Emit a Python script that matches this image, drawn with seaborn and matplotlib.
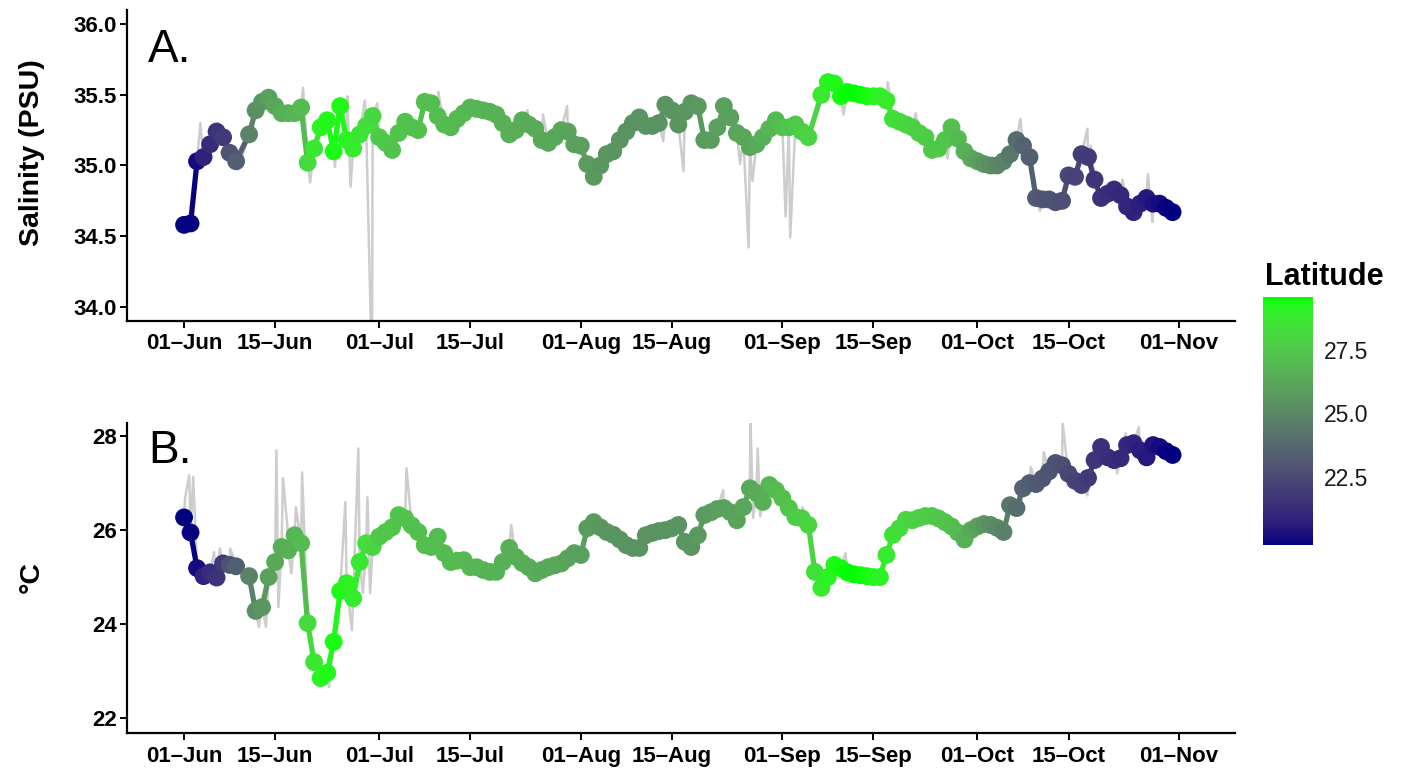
import numpy as np
import pandas as pd
import matplotlib
matplotlib.use("Agg")
import matplotlib.pyplot as plt
import matplotlib.dates as mdates
from matplotlib.collections import LineCollection
from matplotlib.colors import ListedColormap, Normalize
import matplotlib.cm as cm
import seaborn as sns

# ---------------- data (daily values, day 0 = 01-Jun) ----------------
start_date = "2019-06-01"

salinity = [
    34.58, 34.59, 35.03, 35.06, 35.15, 35.24, 35.20, 35.09, 35.03, None,
    35.22, 35.39, 35.45, 35.48, 35.42, 35.37, 35.37, 35.37, 35.41, 35.02,
    35.12, 35.27, 35.32, 35.10, 35.42, 35.18, 35.12, 35.22, 35.28, 35.35,
    35.20, 35.16, 35.11, 35.23, 35.31, 35.27, 35.25, 35.45, 35.44, 35.35,
    35.29, 35.27, 35.33, 35.37, 35.41, 35.40, 35.39, 35.38, 35.36, 35.30,
    35.22, 35.25, 35.32, 35.29, 35.26, 35.18, 35.16, 35.20, 35.25, 35.24,
    35.15, 35.14, 35.01, 34.92, 35.00, 35.08, 35.10, 35.18, 35.24, 35.30,
    35.34, 35.28, 35.28, 35.30, 35.43, 35.39, 35.29, 35.38, 35.44, 35.42,
    35.18, 35.18, 35.27, 35.42, 35.34, 35.23, 35.20, 35.13, 35.15, 35.20,
    35.26, 35.32, 35.27, 35.27, 35.29, 35.24, 35.20, None, 35.50, 35.59,
    35.58, 35.49, 35.52, 35.51, 35.50, 35.49, 35.49, 35.49, 35.46, 35.33,
    35.31, 35.29, 35.27, 35.23, 35.20, 35.11, 35.12, 35.18, 35.27, 35.19,
    35.10, 35.05, 35.03, 35.01, 35.00, 35.00, 35.03, 35.08, 35.18, 35.14,
    35.06, 34.77, 34.76, 34.76, 34.74, 34.75, 34.93, 34.92, 35.08, 35.06,
    34.90, 34.77, 34.80, 34.83, 34.79, 34.71, 34.67, 34.73, 34.77, 34.73,
    34.73, 34.70, 34.67,
]

temperature = [
    26.27, 25.95, 25.19, 25.02, 25.10, 24.99, 25.29, 25.26, 25.23, None,
    25.02, 24.28, 24.36, 25.00, 25.32, 25.64, 25.57, 25.89, 25.72, 24.02,
    23.19, 22.85, 22.96, 23.62, 24.70, 24.87, 24.55, 25.32, 25.72, 25.64,
    25.86, 25.96, 26.06, 26.32, 26.25, 26.10, 25.96, 25.68, 25.64, 25.86,
    25.51, 25.32, 25.35, 25.36, 25.21, 25.21, 25.15, 25.11, 25.11, 25.32,
    25.62, 25.43, 25.30, 25.21, 25.08, 25.15, 25.21, 25.25, 25.29, 25.40,
    25.51, 25.47, 26.04, 26.17, 26.06, 25.96, 25.90, 25.80, 25.68, 25.62,
    25.62, 25.89, 25.94, 25.98, 26.00, 26.04, 26.11, 25.75, 25.64, 25.89,
    26.32, 26.38, 26.45, 26.47, 26.38, 26.21, 26.49, 26.89, 26.79, 26.60,
    26.96, 26.85, 26.68, 26.47, 26.28, 26.25, 26.11, 25.11, 24.77, 25.00,
    25.26, 25.19, 25.10, 25.06, 25.04, 25.02, 25.00, 25.00, 25.47, 25.90,
    26.04, 26.22, 26.21, 26.26, 26.30, 26.30, 26.25, 26.17, 26.08, 25.95,
    25.80, 26.00, 26.08, 26.13, 26.11, 26.05, 25.96, 26.53, 26.47, 26.89,
    27.00, 26.98, 27.10, 27.25, 27.43, 27.38, 27.20, 27.05, 26.96, 27.11,
    27.49, 27.77, 27.55, 27.49, 27.53, 27.81, 27.85, 27.70, 27.55, 27.81,
    27.77, 27.68, 27.60,
]

latitude = [
    19.8, 19.9, 20.1, 20.8, 21.2, 21.5, 21.8, 22.8, 23.3, None,
    24.8, 25.3, 25.6, 26.0, 26.3, 26.5, 26.6, 26.8, 27.0, 28.2,
    28.7, 29.1, 29.3, 29.4, 29.3, 29.1, 28.9, 28.7, 28.4, 28.1,
    27.6, 27.5, 27.4, 27.4, 27.3, 27.3, 27.2, 27.2, 27.1, 27.1,
    27.0, 27.0, 27.0, 26.9, 26.9, 26.8, 26.8, 26.7, 26.7, 26.6,
    26.6, 26.5, 26.5, 26.4, 26.4, 26.3, 26.3, 26.2, 26.2, 26.1,
    26.0, 25.9, 25.8, 25.7, 25.6, 25.6, 25.5, 25.5, 25.5, 25.4,
    25.4, 25.4, 25.4, 25.4, 25.5, 25.5, 25.5, 25.6, 25.6, 25.7,
    25.7, 25.8, 25.9, 26.0, 26.0, 26.1, 26.2, 26.3, 26.4, 26.6,
    26.8, 27.0, 27.2, 27.4, 27.6, 27.8, 28.0, 28.4, 28.8, 29.1,
    29.3, 29.45, 29.55, 29.6, 29.55, 29.45, 29.3, 29.1, 28.8, 28.5,
    28.3, 28.1, 27.9, 27.8, 27.7, 27.6, 27.5, 27.4, 27.2, 27.0,
    26.7, 26.3, 25.9, 25.6, 25.3, 25.0, 24.7, 24.3, 23.9, 23.5,
    23.3, 23.1, 23.0, 22.9, 22.8, 22.6, 22.4, 22.2, 22.0, 21.8,
    21.6, 21.4, 21.3, 21.2, 21.1, 21.0, 20.9, 20.7, 20.5, 20.3,
    20.1, 19.9, 19.8,
]

# raw (high-frequency) excursions shown as the grey trace
sal_spike_day = [2.5, 5.2, 8.3, 18.3, 19.4, 23.2, 25.1, 25.6, 27.8, 28.9,
                 29.7, 39.1, 43.5, 52.8, 55.2, 58.9, 73.7, 76.8, 84.8, 85.5,
                 86.8, 87.4, 92.5, 93.2, 101.4, 108.2, 112.5, 117.4, 128.6,
                 131.6, 138.9, 139.4, 144.3, 148.2, 148.9]
sal_spike_val = [35.30, 35.30, 34.97, 35.55, 34.88, 34.99, 35.49, 34.85, 35.46, 33.50,
                 35.44, 35.52, 35.46, 35.39, 35.36, 35.42, 35.17, 34.96, 35.39, 35.01,
                 34.42, 34.89, 34.64, 34.49, 35.36, 35.59, 35.37, 35.05, 35.33,
                 34.68, 35.26, 35.14, 34.90, 34.94, 34.60]

temp_spike_day = [0.15, 0.8, 1.4, 4.6, 5.5, 7.1, 11.5, 12.6, 14.2, 14.5,
                  15.2, 15.9, 16.5, 17.2, 18.15, 22.3, 24.8, 25.8, 26.8, 27.5,
                  28.2, 28.6, 34.2, 50.3, 82.9, 87.1, 87.5, 88.2, 88.6, 95.1,
                  101.7, 128.6, 130.2, 132.2, 135.1, 135.6, 138.9, 143.5, 144.8,
                  146.8, 147.8]
temp_spike_val = [26.68, 27.17, 27.13, 25.53, 25.61, 25.61, 23.94, 23.94, 27.70, 24.36,
                  27.11, 26.06, 25.08, 26.49, 27.23, 22.66, 26.60, 23.87, 27.74, 24.66,
                  26.70, 24.66, 27.32, 26.11, 26.85, 28.30, 26.26, 27.74, 26.30, 26.49,
                  25.51, 26.36, 27.34, 27.66, 28.30, 27.64, 26.74, 27.21, 28.06,
                  28.19, 27.43]

tick_dates = ["2019-06-01", "2019-06-15", "2019-07-01", "2019-07-15", "2019-08-01",
              "2019-08-15", "2019-09-01", "2019-09-15", "2019-10-01", "2019-10-15",
              "2019-11-01"]

# ---------------- colour scale: navy -> green interpolated in CIELAB ----------------
_M = np.array([[0.4124564, 0.3575761, 0.1804375],
               [0.2126729, 0.7151522, 0.0721750],
               [0.0193339, 0.1191920, 0.9503041]])
_WP = np.array([0.95047, 1.0, 1.08883])


def srgb_to_lab(c):
    c = np.asarray(c, float)
    lin = np.where(c <= 0.04045, c / 12.92, ((c + 0.055) / 1.055) ** 2.4)
    t = (_M @ lin) / _WP
    d = 6 / 29
    f = np.where(t > d ** 3, np.cbrt(t), t / (3 * d * d) + 4 / 29)
    return np.array([116 * f[1] - 16, 500 * (f[0] - f[1]), 200 * (f[1] - f[2])])


def lab_to_srgb(lab):
    L, a, b = lab
    fy = (L + 16) / 116
    f = np.array([fy + a / 500, fy, fy - b / 200])
    d = 6 / 29
    t = np.where(f > d, f ** 3, 3 * d * d * (f - 4 / 29))
    lin = np.clip(np.linalg.inv(_M) @ (t * _WP), 0, 1)
    c = np.where(lin <= 0.0031308, 12.92 * lin, 1.055 * lin ** (1 / 2.4) - 0.055)
    return np.clip(c, 0, 1)


lab_lo = srgb_to_lab([0, 0, 128 / 255])
lab_hi = srgb_to_lab([0, 1, 0])
cmap = ListedColormap([lab_to_srgb((1 - s) * lab_lo + s * lab_hi) for s in np.linspace(0, 1, 256)])

# ---------------- frames ----------------
base = pd.Timestamp(start_date)
days = np.arange(len(salinity))
daily = pd.DataFrame({"day": days, "sal": salinity, "temp": temperature, "lat": latitude})
daily = daily.apply(pd.to_numeric)
daily["date"] = base + pd.to_timedelta(daily["day"], unit="D")

lat_valid = daily["lat"].dropna()
norm = Normalize(vmin=lat_valid.min(), vmax=lat_valid.max())


def raw_frame(col, sp_day, sp_val):
    d = daily.dropna(subset=[col])[["day", col]].rename(columns={col: "val"})
    s = pd.DataFrame({"day": sp_day, "val": sp_val})
    r = pd.concat([d, s]).sort_values("day").reset_index(drop=True)
    r["date"] = base + pd.to_timedelta(r["day"], unit="D")
    return r


# ---------------- styling ----------------
sns.set_style("ticks")
plt.rcParams["font.family"] = ["Liberation Sans", "DejaVu Sans"]
plt.rcParams["axes.linewidth"] = 1.6
plt.rcParams["text.color"] = "black"
plt.rcParams["axes.labelcolor"] = "black"
plt.rcParams["axes.edgecolor"] = "black"

fig = plt.figure(figsize=(14.02, 7.69), dpi=100)
axA = fig.add_axes([0.0906, 0.5826, 0.7903, 0.4044])
axB = fig.add_axes([0.0906, 0.0468, 0.7903, 0.4031])

xlo = mdates.date2num(base - pd.Timedelta(days=8.77))
xhi = mdates.date2num(base + pd.Timedelta(days=161.6))


def draw_panel(ax, col, sp_day, sp_val, ylim, yticks, yfmt, ylabel, letter, letter_y, label_y):
    raw = raw_frame(col, sp_day, sp_val)
    sns.lineplot(data=raw, x="date", y="val", color="#cdcdcd", lw=1.8,
                 estimator=None, sort=True, ax=ax, zorder=1)
    d = daily.dropna(subset=[col, "lat"]).reset_index(drop=True)
    xs = mdates.date2num(d["date"].dt.to_pydatetime())
    ys = d[col].to_numpy()
    pts = np.column_stack([xs, ys])
    segs = np.stack([pts[:-1], pts[1:]], axis=1)
    lc = LineCollection(segs, colors=cmap(norm(d["lat"].to_numpy()[:-1])),
                        linewidths=3.8, capstyle="round", zorder=2)
    ax.add_collection(lc)
    sns.scatterplot(data=d, x="date", y=col, hue="lat", palette=cmap, hue_norm=norm,
                    s=165, linewidth=0, legend=False, ax=ax, zorder=3)
    ax.set_xlim(xlo, xhi)
    ax.set_ylim(*ylim)
    ax.set_yticks(yticks)
    ax.set_yticklabels([yfmt.format(v) for v in yticks])
    ax.set_xticks([mdates.date2num(pd.Timestamp(t)) for t in tick_dates])
    ax.xaxis.set_major_formatter(mdates.DateFormatter("%d\u2013%b"))
    ax.set_xlabel("")
    ax.set_ylabel(ylabel, fontsize=20.5, fontweight="bold", color="black")
    ax.yaxis.set_label_coords(-0.074, label_y)
    ax.tick_params(axis="both", direction="out", length=5, width=1.4, color="black",
                   labelsize=16, labelcolor="black")
    ax.tick_params(axis="x", pad=4)
    ax.tick_params(axis="y", pad=2)
    for lab in ax.get_xticklabels() + ax.get_yticklabels():
        lab.set_fontweight("bold")
    sns.despine(ax=ax)
    ax.text(0.019, letter_y, letter, transform=ax.transAxes, fontsize=33,
            va="baseline", ha="left", color="black")


draw_panel(axA, "sal", sal_spike_day, sal_spike_val, (33.90, 36.10),
           [34.0, 34.5, 35.0, 35.5, 36.0], "{:.1f}", "Salinity (PSU)", "A.", 0.833, 0.54)
draw_panel(axB, "temp", temp_spike_day, temp_spike_val, (21.68, 28.28),
           [22, 24, 26, 28], "{:.0f}", "\u00b0C", "B.", 0.871, 0.503)

# ---------------- colour bar ----------------
cax = fig.add_axes([1263 / 1402, 1 - 545 / 769, 50 / 1402, 248 / 769])
sm = cm.ScalarMappable(norm=norm, cmap=cmap)
cb = fig.colorbar(sm, cax=cax)
cb.outline.set_visible(False)
cb.set_ticks([22.5, 25.0, 27.5])
cb.set_ticklabels(["22.5", "25.0", "27.5"])
cax.tick_params(which="both", direction="in", length=9, width=1.1, color="white",
                left=True, right=True, labelleft=False, labelright=True,
                labelsize=16.5, labelcolor="#1a1a1a", pad=8)
cax.minorticks_off()
fig.text(1265 / 1402, 1 - 285 / 769, "Latitude", fontsize=22, fontweight="bold",
         ha="left", va="baseline", color="black")

fig.savefig("out.png", dpi=100)
